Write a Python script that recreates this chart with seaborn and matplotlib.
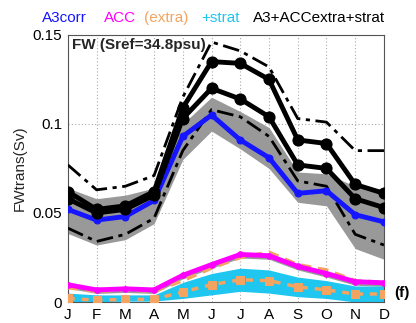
import matplotlib
matplotlib.use("Agg")
import matplotlib.pyplot as plt
import seaborn as sns
import numpy as np
import pandas as pd

months = ["J", "F", "M", "A", "M", "J", "J", "A", "S", "O", "N", "D"]
mnum = list(range(1, 13))

a3corr = [0.052, 0.046, 0.048, 0.057, 0.093, 0.105, 0.091, 0.081, 0.061, 0.0625, 0.049, 0.045]
a3_band_lo = [0.0385, 0.032, 0.035, 0.044, 0.080, 0.096, 0.086, 0.075, 0.056, 0.054, 0.030, 0.024]
a3_band_hi = [0.064, 0.058, 0.060, 0.064, 0.100, 0.115, 0.107, 0.098, 0.073, 0.072, 0.065, 0.063]

total_hi = [0.062, 0.052, 0.054, 0.062, 0.109, 0.135, 0.134, 0.125, 0.091, 0.089, 0.066, 0.061]
total_lo = [0.058, 0.050, 0.052, 0.060, 0.103, 0.120, 0.114, 0.104, 0.077, 0.075, 0.058, 0.053]
total_env_hi = [0.077, 0.063, 0.065, 0.071, 0.115, 0.146, 0.141, 0.132, 0.103, 0.101, 0.085, 0.085]
total_env_lo = [0.0415, 0.034, 0.038, 0.047, 0.085, 0.108, 0.104, 0.093, 0.068, 0.065, 0.038, 0.032]

acc = [0.0097, 0.0068, 0.0074, 0.0068, 0.015, 0.021, 0.0267, 0.026, 0.020, 0.016, 0.0114, 0.0108]
acc_extra = [0.008, 0.006, 0.007, 0.006, 0.012, 0.019, 0.025, 0.028, 0.021, 0.018, 0.012, 0.011]
acc_extra_low = [0.002, 0.001, 0.0015, 0.0015, 0.0057, 0.0097, 0.0125, 0.012, 0.0085, 0.0068, 0.0045, 0.0045]
strat_lo = [0.000, 0.000, 0.0005, 0.0005, 0.002, 0.004, 0.006, 0.005, 0.003, 0.002, 0.000, 0.000]
strat_hi = [0.005, 0.004, 0.004, 0.004, 0.011, 0.016, 0.019, 0.018, 0.014, 0.012, 0.009, 0.009]
strat = [0.0025, 0.002, 0.0022, 0.0022, 0.0065, 0.010, 0.0125, 0.0115, 0.0085, 0.007, 0.0045, 0.0045]

df = pd.DataFrame({"m": mnum, "a3": a3corr, "thi": total_hi, "tlo": total_lo,
                   "ehi": total_env_hi, "elo": total_env_lo, "acc": acc,
                   "ext": acc_extra, "extl": acc_extra_low, "strat": strat})

sns.set_style("white")
plt.rcParams["font.family"] = ["Liberation Sans", "DejaVu Sans"]

fig = plt.figure(figsize=(4.16, 3.23), dpi=100)
ax = fig.add_axes([0.163, 0.065, 0.76, 0.827])

gray = "#999999"
# bands
ax.fill_between(mnum, a3_band_lo, a3_band_hi, color=gray, lw=0, zorder=1)
ax.fill_between(mnum, np.array(acc) - 0.002, np.array(acc) + 0.001, color=gray, lw=0, zorder=1)
ax.fill_between(mnum, strat_lo, strat_hi, color="#1ec6f0", lw=0, zorder=1)

# lines
sns.lineplot(data=df, x="m", y="ehi", ax=ax, color="black", lw=2, linestyle=(0, (6, 2, 1.5, 2)), zorder=3)
sns.lineplot(data=df, x="m", y="elo", ax=ax, color="black", lw=2, linestyle=(0, (6, 2, 1.5, 2)), zorder=3)
sns.lineplot(data=df, x="m", y="a3", ax=ax, color="#1515ff", lw=3.5, marker="o", markersize=5,
             markeredgecolor="#1515ff", zorder=4)
sns.lineplot(data=df, x="m", y="thi", ax=ax, color="black", lw=3.5, marker="o", markersize=8,
             markeredgecolor="black", zorder=5)
sns.lineplot(data=df, x="m", y="tlo", ax=ax, color="black", lw=3.5, marker="o", markersize=8,
             markeredgecolor="black", zorder=5)
sns.lineplot(data=df, x="m", y="strat", ax=ax, color="#1ec6f0", lw=3, zorder=2)
sns.lineplot(data=df, x="m", y="ext", ax=ax, color="#f4a460", lw=2.5, linestyle=(0, (3, 2)), zorder=3)
sns.lineplot(data=df, x="m", y="acc", ax=ax, color="#ff00ff", lw=3.5, marker="o", markersize=4,
             markeredgecolor="#ff00ff", zorder=4)
sns.lineplot(data=df, x="m", y="extl", ax=ax, color="#f4a460", lw=2.5, linestyle=(0, (2, 2)),
             marker="s", markersize=6, markeredgecolor="#f4a460", zorder=4)

ax.set_xlim(1, 12)
ax.set_ylim(0, 0.15)
ax.set_xticks(mnum)
ax.set_xticklabels(months)
ax.set_yticks([0, 0.05, 0.1, 0.15])
ax.set_yticklabels(["0", "0.05", "0.1", "0.15"])
ax.tick_params(axis="both", labelsize=11, direction="in", length=3, colors="#333333", pad=4)
ax.tick_params(axis="both", labelcolor="black")
ax.set_xlabel("")
ax.set_ylabel("FWtrans(Sv)", fontsize=11, labelpad=4)
ax.grid(True, linestyle=(0, (1, 2)), color="#aaaaaa", lw=0.8)
for s in ax.spines.values():
    s.set_color("#555555")
    s.set_linewidth(0.8)
    s.set_visible(True)

ax.text(0.012, 0.99, "FW (Sref=34.8psu)", transform=ax.transAxes, fontsize=11,
        fontweight="bold", va="top", ha="left", zorder=6)

ytop = 1 - 18 / 323
fig.text(42 / 416, ytop, "A3corr", color="#1515ff", fontsize=11, va="center")
fig.text(104 / 416, ytop, "ACC", color="#ff00ff", fontsize=11, va="center")
fig.text(144 / 416, ytop, "(extra)", color="#f4a460", fontsize=11, va="center")
fig.text(201 / 416, ytop, "+strat", color="#1ec6f0", fontsize=11, va="center")
fig.text(253 / 416, ytop, "A3+ACCextra+strat", color="black", fontsize=11, va="center")
fig.text(394 / 416, 1 - 293 / 323, "(f)", color="black", fontsize=11, fontweight="bold", va="center")

fig.savefig("out.png", dpi=100)
